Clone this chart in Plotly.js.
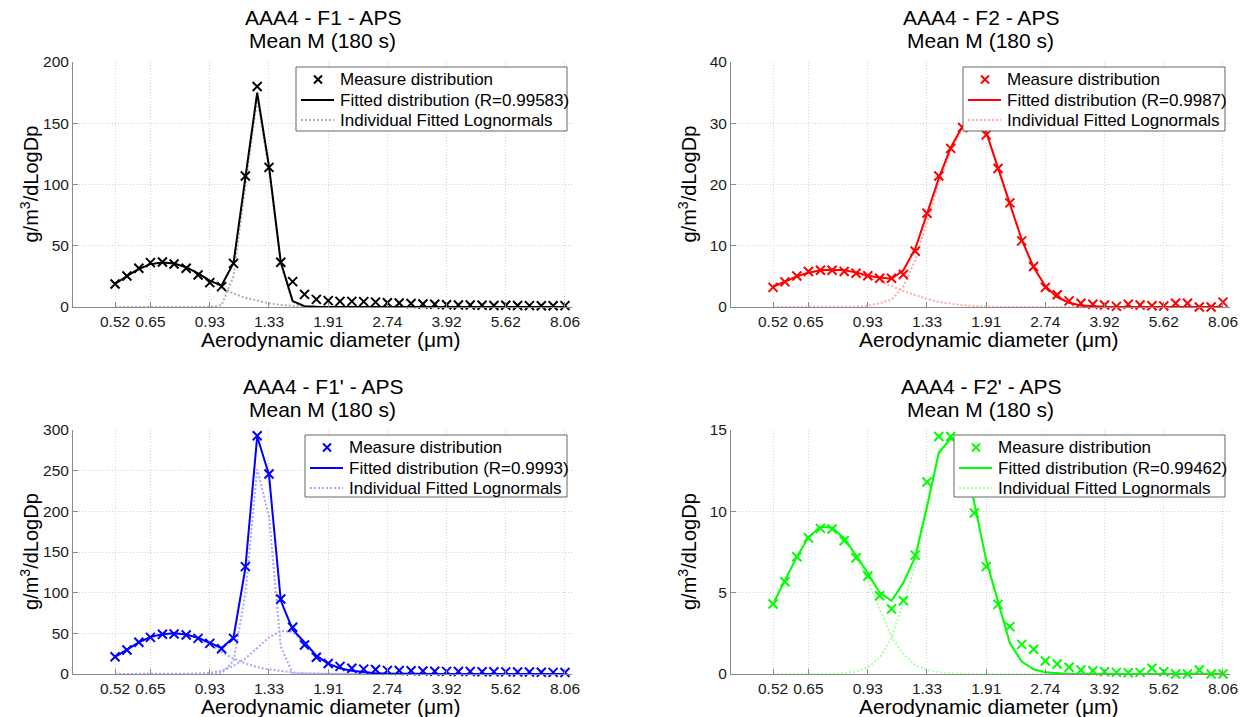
<!DOCTYPE html>
<html><head><meta charset="utf-8">
<script src="https://cdn.plot.ly/plotly-3.0.1.min.js"></script>
<style>html,body{margin:0;padding:0;background:#fff}#chart{width:1247px;height:717px}</style>
</head><body><div id="chart"></div>
<script>
// APS channel diameters (µm)
const diameters = [0.520, 0.559, 0.601, 0.645, 0.694, 0.745, 0.802, 0.862, 0.926, 0.995,
  1.070, 1.150, 1.236, 1.328, 1.427, 1.534, 1.649, 1.772, 1.905, 2.047,
  2.200, 2.365, 2.542, 2.732, 2.936, 3.156, 3.392, 3.646, 3.918, 4.211,
  4.526, 4.864, 5.228, 5.619, 6.039, 6.491, 6.977, 7.499, 8.060];
const tickVals = [0.520, 0.645, 0.926, 1.328, 1.905, 2.732, 3.918, 5.619, 8.060];
const tickLabels = ["0.52", "0.65", "0.93", "1.33", "1.91", "2.74", "3.92", "5.62", "8.06"];

const panelTitles = ["AAA4 - F1 - APS", "AAA4 - F2 - APS", "AAA4 - F1' - APS", "AAA4 - F2' - APS"];
const subTitle = "Mean M (180 s)";
const rValues = ["0.99583", "0.9987", "0.9993", "0.99462"];
const legendLabels = ["Measure distribution", "Fitted distribution (R=", "Individual Fitted Lognormals"];

// F1 (black)
const f1Measured = [18.8, 25.3, 31.6, 36.2, 36.7, 35.1, 31.6, 26.1, 19.9, 16.6, 35.6, 107, 180, 114, 36.5, 20.7, 10.3, 6.2, 5.2, 4.6,
  4.6, 4.4, 4.0, 3.5, 3.2, 2.8, 2.4, 2.2, 1.9, 1.7, 1.6, 1.4, 1.2, 1.4, 1.2, 1.1, 1.0, 1.0, 1.1];
const f1Fitted = [18.8, 25.3, 31.0, 35.0, 36.3, 35.5, 32.5, 27.5, 21.5, 17.5, 36.0, 106.5, 175, 115, 36.7, 4.8, 0.65, 0.15, 0.05, 0,
  0, 0, 0, 0, 0, 0, 0, 0, 0, 0, 0, 0, 0, 0, 0, 0, 0, 0, 0];
const f1Lognormal1 = [18.8, 25.3, 31.0, 35.0, 36.3, 35.5, 32.5, 27.5, 21.5, 16.0, 11.0, 7.5, 5.0, 3.0, 1.7, 0.8, 0.35, 0.15, 0.05, 0,
  0, 0, 0, 0, 0, 0, 0, 0, 0, 0, 0, 0, 0, 0, 0, 0, 0, 0, 0];
const f1Lognormal2 = [0, 0, 0, 0, 0, 0, 0, 0, 0, 1.5, 25, 99, 170, 112, 35, 4, 0.3, 0, 0, 0,
  0, 0, 0, 0, 0, 0, 0, 0, 0, 0, 0, 0, 0, 0, 0, 0, 0, 0, 0];

// F2 (red)
const f2Measured = [3.2, 4.1, 5.06, 5.8, 6.0, 6.0, 5.8, 5.5, 5.1, 4.7, 4.7, 5.3, 9.1, 15.3, 21.4, 25.9, 29.3, 30.5, 28.1, 22.6,
  17.0, 10.8, 6.6, 3.2, 2.0, 1.0, 0.6, 0.44, 0.33, 0.1, 0.44, 0.33, 0.2, 0.15, 0.6, 0.6, 0.0, 0.0, 0.8];
const f2Fitted = [3.3, 4.2, 5.0, 5.6, 6.0, 6.1, 6.0, 5.65, 5.1, 4.8, 4.6, 6.0, 9.5, 15.2, 21.0, 26.0, 29.5, 30.55, 28.55, 22.72,
  16.8, 11.0, 6.5, 3.4, 1.6, 0.7, 0.25, 0.1, 0.03, 0, 0, 0, 0, 0, 0, 0, 0, 0, 0];
const f2Lognormal1 = [3.3, 4.2, 5.0, 5.6, 6.0, 6.1, 6.0, 5.6, 4.9, 4.2, 3.4, 2.6, 1.9, 1.3, 0.8, 0.5, 0.3, 0.15, 0.05, 0.02,
  0, 0, 0, 0, 0, 0, 0, 0, 0, 0, 0, 0, 0, 0, 0, 0, 0, 0, 0];
const f2Lognormal2 = [0, 0, 0, 0, 0, 0, 0, 0.05, 0.2, 0.6, 1.2, 3.4, 7.6, 13.9, 20.2, 25.5, 29.2, 30.4, 28.5, 22.7,
  16.8, 11.0, 6.5, 3.4, 1.6, 0.7, 0.25, 0.1, 0.03, 0, 0, 0, 0, 0, 0, 0, 0, 0, 0];

// F1' (blue)
const f1pMeasured = [21.3, 29.5, 39, 45, 48.8, 49.2, 48, 43.8, 37.7, 31.1, 43.8, 132, 293, 246, 92.2, 57.4, 35.7, 20.5, 13.0, 9.4,
  7.0, 6.0, 5.5, 4.5, 4.2, 4.0, 3.6, 3.4, 3.2, 3.0, 3.0, 2.8, 2.8, 2.6, 2.5, 2.4, 2.2, 2.0, 1.8];
const f1pFitted = [21, 30, 39, 45.5, 49, 50, 48.5, 44.5, 38, 32, 45, 130, 292, 245, 90.3, 54.5, 39.1, 22.6, 12.8, 7.15,
  3.85, 2.0, 1.0, 0.5, 0.2, 0, 0, 0, 0, 0, 0, 0, 0, 0, 0, 0, 0, 0, 0];
const f1pLognormal1 = [21, 30, 39, 45.5, 49, 50, 48.5, 44, 36.5, 27, 19, 13, 8.5, 5.5, 3.3, 2.0, 1.1, 0.6, 0.3, 0.15,
  0, 0, 0, 0, 0, 0, 0, 0, 0, 0, 0, 0, 0, 0, 0, 0, 0, 0, 0];
const f1pLognormal2 = [0, 0, 0, 0, 0, 0, 0, 0, 0, 1, 16, 98, 251.5, 194.5, 34, 0.5, 0, 0, 0, 0,
  0, 0, 0, 0, 0, 0, 0, 0, 0, 0, 0, 0, 0, 0, 0, 0, 0, 0, 0];
const f1pLognormal3 = [0, 0, 0, 0, 0, 0, 0, 0.5, 1.5, 4, 10, 19, 32, 45, 53, 52, 38, 22, 12.5, 7,
  3.85, 2.0, 1.0, 0.5, 0.2, 0, 0, 0, 0, 0, 0, 0, 0, 0, 0, 0, 0, 0, 0];

// F2' (green)
const f2pMeasured = [4.30, 5.67, 7.21, 8.38, 8.95, 8.91, 8.19, 7.15, 6.02, 4.81, 4.0, 4.5, 7.31, 11.8, 14.6, 14.6, 14.0, 9.9, 6.6, 4.28,
  2.91, 1.82, 1.52, 0.8, 0.61, 0.41, 0.25, 0.2, 0.14, 0.1, 0.08, 0.1, 0.35, 0.14, 0.0, 0.0, 0.25, 0.0, 0.0];
const f2pFitted = [4.3, 5.8, 7.2, 8.4, 9.05, 9.0, 8.35, 7.3, 6.2, 5.0, 4.5, 5.6, 7.2, 10.3, 13.6, 14.49, 14.0, 10.5, 7.0, 4.45,
  1.9, 0.76, 0.29, 0.1, 0.03, 0, 0, 0, 0, 0, 0, 0, 0, 0, 0, 0, 0, 0, 0];
const f2pLognormal1 = [4.3, 5.8, 7.2, 8.4, 9.05, 9.0, 8.3, 7.15, 5.8, 4.0, 2.3, 1.2, 0.55, 0.25, 0.1, 0.04, 0, 0, 0, 0,
  0, 0, 0, 0, 0, 0, 0, 0, 0, 0, 0, 0, 0, 0, 0, 0, 0, 0, 0];
const f2pLognormal2 = [0, 0, 0, 0, 0, 0, 0.05, 0.15, 0.4, 1.0, 2.2, 4.4, 6.65, 10.05, 13.5, 14.45, 14.0, 10.5, 7.0, 4.45,
  1.9, 0.76, 0.29, 0.1, 0.03, 0, 0, 0, 0, 0, 0, 0, 0, 0, 0, 0, 0, 0, 0];

const yRanges = [[0, 200], [0, 40], [0, 300], [0, 15]];
const yDticks = [50, 10, 50, 5];

const W = 1247, H = 717;
const px = v => v / W, py = v => 1 - v / H;
const FONT = "Liberation Sans, Arial, Helvetica, sans-serif";

const panels = [
  {measured: f1Measured, fitted: f1Fitted, logn: [f1Lognormal1, f1Lognormal2], color: "#000000", light: "#b0b0b0",
   x0: 73, x1: 572, y0: 62, y1: 307, legL: 296, legR: 567, legT: 67, legB: 131},
  {measured: f2Measured, fitted: f2Fitted, logn: [f2Lognormal1, f2Lognormal2], color: "#ff0000", light: "#ffabab",
   x0: 731, x1: 1230, y0: 62, y1: 307, legL: 963, legR: 1225, legT: 67, legB: 131},
  {measured: f1pMeasured, fitted: f1pFitted, logn: [f1pLognormal1, f1pLognormal2, f1pLognormal3], color: "#0000ff", light: "#a8a8ff",
   x0: 73, x1: 572, y0: 430, y1: 674, legL: 305, legR: 567, legT: 435, legB: 497},
  {measured: f2pMeasured, fitted: f2pFitted, logn: [f2pLognormal1, f2pLognormal2], color: "#00ff00", light: "#aaffaa",
   x0: 731, x1: 1230, y0: 430, y1: 674, legL: 954, legR: 1225, legT: 435, legB: 497}
];

const traces = [];
const shapes = [];
const annotations = [];
const layout = {
  width: W, height: H, margin: {l: 0, r: 0, t: 0, b: 0},
  paper_bgcolor: "#fff", plot_bgcolor: "#fff", showlegend: false,
  font: {family: FONT, size: 15, color: "#000"},
  shapes: shapes, annotations: annotations
};

function pline(x0, y0, x1, y1, color, width, dash) {
  shapes.push({type: "line", xref: "paper", yref: "paper", layer: "above",
    x0: px(x0), y0: py(y0), x1: px(x1), y1: py(y1),
    line: {color: color, width: width, dash: dash || "solid"}});
}
function ptext(text, x, y, size, xanchor, angle) {
  annotations.push({text: text, x: px(x), y: py(y), xref: "paper", yref: "paper",
    xanchor: xanchor || "center", yanchor: "middle", showarrow: false, textangle: angle || 0,
    font: {family: FONT, size: size, color: "#000"}});
}

panels.forEach((p, k) => {
  const n = k + 1;
  const xa = "x" + (n === 1 ? "" : n), ya = "y" + (n === 1 ? "" : n);
  p.logn.forEach((arr) => {
    traces.push({x: diameters, y: arr, xaxis: xa, yaxis: ya, type: "scatter", mode: "lines",
      line: {color: p.light, width: 2, dash: "2px,2px"}, name: legendLabels[2], hoverinfo: "skip"});
  });
  traces.push({x: diameters, y: p.fitted, xaxis: xa, yaxis: ya, type: "scatter", mode: "lines",
    line: {color: p.color, width: 2}, name: legendLabels[1] + rValues[k] + ")"});
  traces.push({x: diameters, y: p.measured, xaxis: xa, yaxis: ya, type: "scatter", mode: "markers",
    marker: {symbol: "x-thin", size: 9, color: p.color, line: {color: p.color, width: 2}},
    name: legendLabels[0], cliponaxis: false});

  const axCommon = {
    showgrid: true, gridcolor: "#d2d2d2", griddash: "1px,2px", gridwidth: 1,
    showline: true, linecolor: "#8a8a8a", linewidth: 1, zeroline: false,
    ticks: "inside", ticklen: 5, tickcolor: "#8a8a8a",
    tickfont: {family: FONT, size: 15.5, color: "#1a1a1a"}
  };
  layout["xaxis" + (n === 1 ? "" : n)] = Object.assign({
    type: "log", domain: [px(p.x0), px(p.x1)], range: [-0.3953, 0.9249], anchor: ya,
    tickmode: "array", tickvals: tickVals, ticktext: tickLabels
  }, axCommon);
  layout["yaxis" + (n === 1 ? "" : n)] = Object.assign({
    domain: [py(p.y1), py(p.y0)], range: yRanges[k], dtick: yDticks[k], anchor: xa
  }, axCommon);

  // titles and axis labels
  const cx = (p.x0 + p.x1) / 2;
  ptext(panelTitles[k], cx, p.y0 - 44, 21);
  ptext(subTitle, cx, p.y0 - 21, 21);
  ptext("Aerodynamic diameter (μm)", cx + 8, p.y1 + 32, 21);
  ptext("g/m<sup>3</sup>/dLogDp", p.x0 - 44, (p.y0 + p.y1) / 2, 20, "center", -90);

  // legend box (drawn above the data, like the original)
  shapes.push({type: "rect", xref: "paper", yref: "paper", layer: "above",
    x0: px(p.legL), x1: px(p.legR), y0: py(p.legB), y1: py(p.legT),
    fillcolor: "#ffffff", line: {color: "#666666", width: 1}});
  const r1 = p.legT + 12.5, r2 = p.legT + 33, r3 = p.legT + 53;
  const mx = p.legL + 22;
  pline(mx - 4, r1 - 4, mx + 4, r1 + 4, p.color, 2);
  pline(mx - 4, r1 + 4, mx + 4, r1 - 4, p.color, 2);
  pline(p.legL + 5, r2, p.legL + 38, r2, p.color, 2);
  pline(p.legL + 5, r3, p.legL + 38, r3, p.light, 2, "2px,2px");
  const tx = p.legL + 42;
  ptext(legendLabels[0], tx, r1, 17, "left");
  ptext(legendLabels[1] + rValues[k] + ")", tx, r2, 17, "left");
  ptext(legendLabels[2], tx, r3, 17, "left");
});

Plotly.newPlot("chart", traces, layout, {staticPlot: true, displayModeBar: false});
</script>
</body></html>
